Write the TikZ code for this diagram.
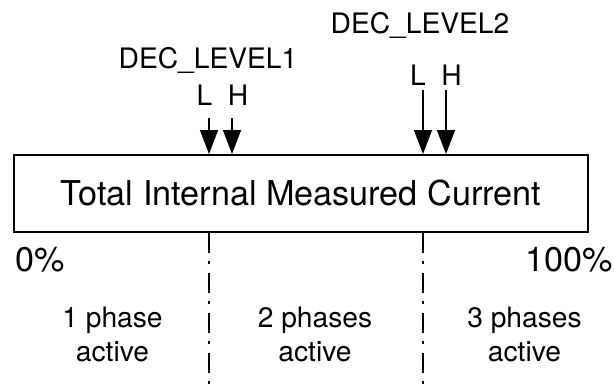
\documentclass[tikz,border=0pt]{standalone}
\usepackage{fontspec}
\setmainfont{TeX Gyre Heros}
\usetikzlibrary{arrows.meta}
\tikzset{
  big/.style={font=\fontsize{34.2}{40}\selectfont,inner sep=0pt},
  small/.style={font=\fontsize{28.2}{34}\selectfont,inner sep=0pt},
  level/.style={-{Triangle[width=18pt,length=24pt]},line width=1.5pt},
  split/.style={line width=2.8pt,dash pattern=on 20pt off 8pt on 3pt off 9pt},
}

\begin{document}
\begin{tikzpicture}[x=1pt,y=1pt]
\useasboundingbox (0,0) rectangle (614,-388);
% measured current bar
\node[draw,line width=2pt,minimum width=574pt,minimum height=77pt,big] (meas) at (301,-193.5) {Total Internal Measured Current};
\node[big,anchor=base west] (zero) at (15,-271) {0\%};
\node[big,anchor=base east] (full) at (613,-271) {100\%};
% decision levels
\node[small,anchor=base] (lev1) at (208,-68) {DEC\_LEVEL1};
\node[small,anchor=base] (lev2) at (420,-33) {DEC\_LEVEL2};
\foreach \n/\x/\y/\lab in {l1/204.5/105/L,h1/238/105/H,l2/418/85/L,h2/451.5/85/H} {
  \node[small,anchor=base] (\n) at (\x,-\y) {\lab};
}
\coordinate (l1a) at (209,-118);
\coordinate (h1a) at (232,-118);
\coordinate (l2a) at (423,-90);
\coordinate (h2a) at (446,-90);
\foreach \n in {l1a,h1a,l2a,h2a} {
  \draw[level] (\n) -- (\n |- meas.north);
}
% phase boundaries
\coordinate (cut1) at (209,-388);
\coordinate (cut2) at (423,-388);
\draw[split] (cut1 |- meas.south) -- (cut1);
\draw[split] (cut2 |- meas.south) -- (cut2);
% base of a two-line node sits on its last line
\foreach \n/\x/\lab in {one/112.5/1 phase,two/315/2 phases,three/524.5/3 phases} {
  \node[small,align=center,anchor=base] (\n) at (\x,-361) {\lab\\active};
}
\end{tikzpicture}
\end{document}
